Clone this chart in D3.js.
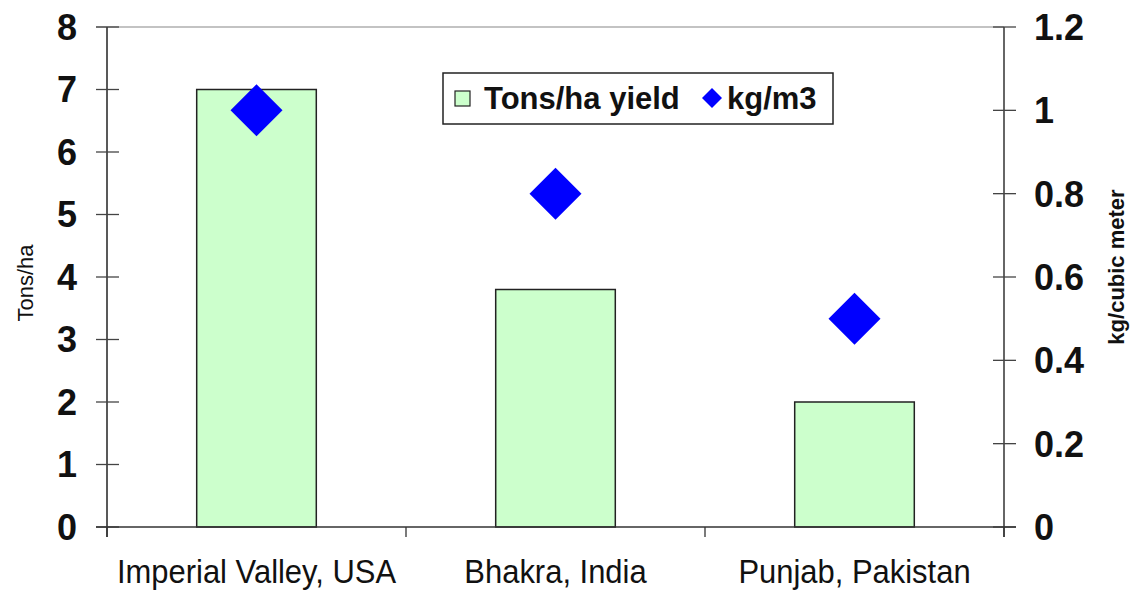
<!DOCTYPE html>
<html><head><meta charset="utf-8">
<script src="https://cdn.jsdelivr.net/npm/d3@7"></script>
<style>body{margin:0;background:#fff}svg{display:block}</style>
</head><body>
<svg id="c" width="1131" height="592"></svg>
<script>
const categories = ["Imperial Valley, USA", "Bhakra, India", "Punjab, Pakistan"];
const yieldTons = [7, 3.8, 2];
const kgPerM3 = [1.0, 0.8, 0.5];
const leftTicks = [0,1,2,3,4,5,6,7,8];
const rightTicks = [0,0.2,0.4,0.6,0.8,1,1.2];
const seriesNames = ["Tons/ha yield", "kg/m3"];

const svg = d3.select("#c");
const L = 107, R = 1004, T = 27, B = 527;
const x = d3.scaleBand().domain(categories).range([L, R]).paddingInner(0).paddingOuter(0);
const yL = d3.scaleLinear().domain([0, 8]).range([B, T]);
const yR = d3.scaleLinear().domain([0, 1.2]).range([B, T]);
const font = "Arial, 'Liberation Sans', sans-serif";

// top border
svg.append("line").attr("x1", L - 11).attr("x2", R).attr("y1", T).attr("y2", T)
  .attr("stroke", "#888").attr("stroke-width", 1.2);

// bars
const bw = x.bandwidth() * 0.4;
svg.selectAll("rect.bar").data(categories).join("rect").attr("class", "bar")
  .attr("x", d => x(d) + x.bandwidth()/2 - bw/2)
  .attr("y", (d,i) => yL(yieldTons[i]))
  .attr("width", bw)
  .attr("height", (d,i) => B - yL(yieldTons[i]))
  .attr("fill", "#ccffcc").attr("stroke", "#222").attr("stroke-width", 1.5);

// left axis
const gL = svg.append("g");
gL.append("line").attr("x1", L).attr("x2", L).attr("y1", T).attr("y2", B + 10).attr("stroke", "#222").attr("stroke-width", 1.5);
gL.selectAll("line.t").data(leftTicks).join("line").attr("class","t")
  .attr("x1", L - 11).attr("x2", L + 12).attr("y1", d => yL(d)).attr("y2", d => yL(d))
  .attr("stroke", "#444").attr("stroke-width", 1.3);
gL.selectAll("text").data(leftTicks).join("text")
  .attr("x", 77).attr("y", d => yL(d)).attr("dy", "0.36em").attr("text-anchor", "end")
  .attr("font-family", font).attr("font-weight", "bold").attr("font-size", 36).attr("fill", "#111")
  .text(d => d);

// right axis
const gR = svg.append("g");
gR.append("line").attr("x1", R).attr("x2", R).attr("y1", T).attr("y2", B + 10).attr("stroke", "#333").attr("stroke-width", 1.5);
gR.selectAll("line.t").data(rightTicks).join("line").attr("class","t")
  .attr("x1", R - 11).attr("x2", R + 12).attr("y1", d => yR(d)).attr("y2", d => yR(d))
  .attr("stroke", "#444").attr("stroke-width", 1.3);
gR.selectAll("text").data(rightTicks).join("text")
  .attr("x", 1034).attr("y", d => yR(d)).attr("dy", "0.36em").attr("text-anchor", "start")
  .attr("font-family", font).attr("font-weight", "bold").attr("font-size", 36).attr("fill", "#111")
  .text(d => d);

// x axis
svg.append("line").attr("x1", L - 11).attr("x2", R + 12).attr("y1", B).attr("y2", B)
  .attr("stroke", "#333").attr("stroke-width", 1.5);
const bounds = categories.map(c => x(c)).concat([R]);
svg.selectAll("line.xt").data(bounds).join("line").attr("class","xt")
  .attr("x1", d => d).attr("x2", d => d).attr("y1", B).attr("y2", B + 10)
  .attr("stroke", "#333").attr("stroke-width", 1.3);
const sx = 0.91;
svg.selectAll("text.xl").data(categories).join("text").attr("class","xl")
  .attr("transform", d => `translate(${x(d) + x.bandwidth()/2},583) scale(${sx},1)`)
  .attr("text-anchor", "middle")
  .attr("font-family", font)
  .attr("font-size", 34).attr("fill", "#111")
  .text(d => d);

// diamonds
const ds = 26;
svg.selectAll("path.dm").data(categories).join("path").attr("class","dm")
  .attr("d", (d,i) => {
    const cx = x(d) + x.bandwidth()/2, cy = yR(kgPerM3[i]);
    return `M${cx},${cy-ds}L${cx+ds},${cy}L${cx},${cy+ds}L${cx-ds},${cy}Z`;
  })
  .attr("fill", "#0000ff");

// axis titles
svg.append("text").attr("transform", "translate(33,283) rotate(-90)").attr("text-anchor", "middle")
  .attr("font-family", font).attr("font-size", 22).attr("fill", "#111").text("Tons/ha");
svg.append("text").attr("transform", "translate(1124,267) rotate(-90)").attr("text-anchor", "middle")
  .attr("font-family", font).attr("font-weight", "bold").attr("font-size", 22).attr("fill", "#111").text("kg/cubic meter");

// legend
const lg = svg.append("g");
lg.append("rect").attr("x", 443).attr("y", 73).attr("width", 390).attr("height", 51)
  .attr("fill", "#fff").attr("stroke", "#222").attr("stroke-width", 1.5);
lg.append("rect").attr("x", 455).attr("y", 91).attr("width", 15).attr("height", 15)
  .attr("fill", "#ccffcc").attr("stroke", "#222").attr("stroke-width", 1.2);
lg.append("text").attr("x", 484).attr("y", 98).attr("dy", "0.36em")
  .attr("font-family", font).attr("font-weight", "bold").attr("font-size", 31).attr("fill", "#111").text(seriesNames[0]);
const lx = 712, ly = 98, lds = 10;
lg.append("path").attr("d", `M${lx},${ly-lds}L${lx+lds},${ly}L${lx},${ly+lds}L${lx-lds},${ly}Z`).attr("fill", "#0000ff");
lg.append("text").attr("x", 727).attr("y", 98).attr("dy", "0.36em")
  .attr("font-family", font).attr("font-weight", "bold").attr("font-size", 31).attr("fill", "#111").text(seriesNames[1]);
</script>
</body></html>
